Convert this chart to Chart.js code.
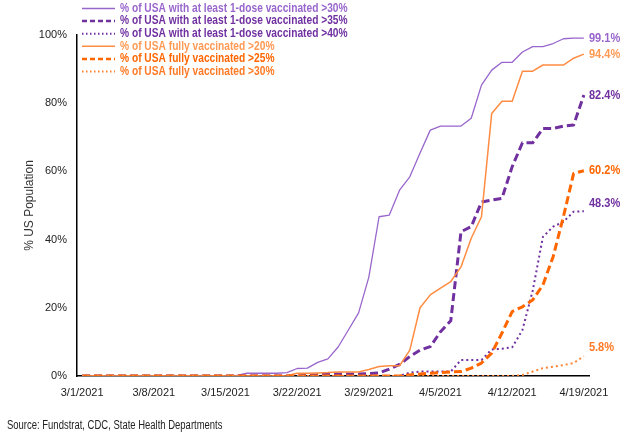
<!DOCTYPE html>
<html><head><meta charset="utf-8">
<script src="https://cdn.jsdelivr.net/npm/chart.js@4.4.0/dist/chart.umd.min.js"></script>
<style>
html,body{margin:0;padding:0;background:#fff;}
#wrap{position:relative;width:624px;height:442px;overflow:hidden;}
#c{position:absolute;left:0;top:0;}
#src{position:absolute;left:7px;top:418px;font:12px "Liberation Sans",Arial,sans-serif;color:#222;white-space:nowrap;transform:scaleX(0.79);transform-origin:0 0;}
</style></head><body>
<div id="wrap"><canvas id="c" width="624" height="442"></canvas><div id="src">Source: Fundstrat, CDC, State Health Departments</div></div>
<script>
const dates = ["3/1/2021","3/2/2021","3/3/2021","3/4/2021","3/5/2021","3/6/2021","3/7/2021",
"3/8/2021","3/9/2021","3/10/2021","3/11/2021","3/12/2021","3/13/2021","3/14/2021",
"3/15/2021","3/16/2021","3/17/2021","3/18/2021","3/19/2021","3/20/2021","3/21/2021",
"3/22/2021","3/23/2021","3/24/2021","3/25/2021","3/26/2021","3/27/2021","3/28/2021",
"3/29/2021","3/30/2021","3/31/2021","4/1/2021","4/2/2021","4/3/2021","4/4/2021",
"4/5/2021","4/6/2021","4/7/2021","4/8/2021","4/9/2021","4/10/2021","4/11/2021",
"4/12/2021","4/13/2021","4/14/2021","4/15/2021","4/16/2021","4/17/2021","4/18/2021","4/19/2021"];
const tickLabels = ["3/1/2021","3/8/2021","3/15/2021","3/22/2021","3/29/2021","4/5/2021","4/12/2021","4/19/2021"];
const yTicks = [0,20,40,60,80,100];

const dose30 = [0,0,0,0,0,0,0,0,0,0,0,0,0,0,0,0.1,0.8,0.8,0.8,0.8,1.0,2.2,2.3,4.0,5.0,8.5,13.5,18.5,29,46.7,47.2,54.5,58.4,65.4,72.1,73.3,73.3,73.3,75.6,85.3,89.7,92,92,95,96.6,96.6,97.5,98.9,99.1,99.1];
const dose35 = [0,0,0,0,0,0,0,0,0,0,0,0,0,0,0,0,0,0,0,0,0,0,0.2,0.4,0.5,0.6,0.6,0.6,0.7,0.9,2.0,3.4,5.7,7.6,8.6,13,16.2,42.3,43.8,51,51.6,52.1,61.4,68.4,68.4,72.6,72.6,73.3,73.6,82.4];
const dose40 = [0,0,0,0,0,0,0,0,0,0,0,0,0,0,0,0,0,0,0,0,0,0,0,0,0,0,0,0,0,0,0,0,1.0,1.3,1.3,1.3,1.3,4.7,4.7,4.7,7.8,8.0,8.4,13.5,25,40.8,43.8,45.2,48.2,48.3];
const full20 = [0,0,0,0,0,0,0,0,0,0,0,0,0,0,0,0,0,0,0,0,0.1,0.8,0.8,0.9,1.0,1.2,1.2,1.2,1.9,2.8,3.0,3.0,7.6,20,23.8,25.8,27.7,32,40.4,46.7,77,80.6,80.6,89.4,89.4,91.2,91.2,91.2,93.2,94.4];
const full25 = [0,0,0,0,0,0,0,0,0,0,0,0,0,0,0,0,0,0,0,0,0,0,0,0,0,0,0,0,0,0,0,0,0.3,0.6,0.8,1.0,1.2,1.3,2.3,3.8,6.7,12.6,18.9,20.3,22.3,26.7,35,46.7,59.4,60.2];
const full30 = [0,0,0,0,0,0,0,0,0,0,0,0,0,0,0,0,0,0,0,0,0,0,0,0,0,0,0,0,0,0,0,0,0,0,0,0,0,0,0,0,0,0,0,0.3,1.3,2.3,2.7,3.2,3.8,5.8];

const seriesNames = ["% of USA with at least 1-dose vaccinated >30%","% of USA with at least 1-dose vaccinated >35%","% of USA with at least 1-dose vaccinated >40%","% of USA fully vaccinated >20%","% of USA fully vaccinated >25%","% of USA fully vaccinated >30%"];

const REG = '"Liberation Sans",Arial,sans-serif';

const styles = [
  {color:'#9966CC', width:1.3, dash:[], legDash:[], legW:1.5, text:'#9966CC', dy:0},
  {color:'#7030A0', width:3, dash:[8,4], legDash:[5,3], legW:2.5, text:'#7030A0', dy:0},
  {color:'#7030A0', width:2, dash:[2,3], legDash:[1.5,2.5], legW:2, text:'#7030A0', dy:-8},
  {color:'#FF8C42', width:1.5, dash:[], legDash:[], legW:1.5, text:'#FF9A55', dy:0},
  {color:'#FF6600', width:3, dash:[8,4], legDash:[5,3], legW:2.5, text:'#FF6600', dy:0},
  {color:'#FF8533', width:2, dash:[2,3], legDash:[1.5,2.5], legW:2, text:'#FF7A26', dy:-9}
];
const values = [dose30, dose35, dose40, full20, full25, full30];

const datasets = values.map((v,i)=>({
  label: seriesNames[i],
  data: v,
  borderColor: styles[i].color,
  backgroundColor: styles[i].color,
  borderWidth: styles[i].width,
  borderDash: styles[i].dash,
  borderCapStyle: 'butt',
  borderJoinStyle: 'round',
  pointRadius: 0,
  tension: 0,
  fill: false,
  order: 6 - i
}));

function narrowText(ctx, text, x, y, sx){
  ctx.save();
  ctx.translate(x, y);
  ctx.scale(sx, 1);
  ctx.fillText(text, 0, 0);
  ctx.restore();
}

const endLabels = {
  id:'endLabels',
  afterDatasetsDraw(chart){
    const ctx = chart.ctx;
    ctx.save();
    ctx.font = 'bold 13px ' + REG;
    ctx.textAlign = 'left';
    ctx.textBaseline = 'middle';
    chart.data.datasets.forEach((ds,i)=>{
      const meta = chart.getDatasetMeta(i);
      const pt = meta.data[meta.data.length-1];
      const v = ds.data[ds.data.length-1];
      ctx.fillStyle = styles[i].text;
      narrowText(ctx, v.toFixed(1)+'%', pt.x + 5, pt.y + styles[i].dy, 0.85);
    });
    ctx.restore();
  }
};

const legendBox = {
  id:'legendBox',
  afterDraw(chart){
    const ctx = chart.ctx;
    const a = chart.chartArea;
    ctx.save();
    ctx.font = 'bold 12px ' + REG;
    ctx.textBaseline = 'middle';
    ctx.textAlign = 'left';
    chart.data.datasets.forEach((ds,i)=>{
      const y = 8.5 + i*12.6;
      const x0 = a.left + 5, x1 = a.left + 38;
      ctx.beginPath();
      ctx.setLineDash(styles[i].legDash);
      ctx.lineWidth = styles[i].legW;
      ctx.strokeStyle = styles[i].color;
      ctx.lineCap = 'butt';
      ctx.moveTo(x0, y); ctx.lineTo(x1, y);
      ctx.stroke();
      ctx.setLineDash([]);
      ctx.fillStyle = styles[i].text;
      narrowText(ctx, ds.label, a.left + 43, y, 0.85);
    });
    ctx.restore();
  }
};

new Chart(document.getElementById('c'), {
  type:'line',
  data:{labels:dates, datasets},
  options:{
    responsive:false,
    animation:false,
    devicePixelRatio:1,
    layout:{padding:{left:0,right:35,top:35,bottom:0}},
    plugins:{legend:{display:false}, tooltip:{enabled:false}},
    scales:{
      x:{
        type:'category',
        offset:true,
        grid:{display:false, drawTicks:false},
        border:{display:true,color:'#000',width:1.5},
        ticks:{
          autoSkip:false, maxRotation:0, minRotation:0, padding:10,
          color:'#222', font:{family:REG,size:11},
          callback:(val,idx)=> tickLabels.includes(dates[idx]) ? dates[idx] : ''
        },
        afterFit:s=>{s.height = 66;}
      },
      y:{
        min:0,max:100,
        grid:{display:false, drawTicks:false},
        border:{display:true,color:'#000',width:1.5},
        afterBuildTicks:s=>{s.ticks = yTicks.map(v=>({value:v}));},
        ticks:{padding:10,color:'#222',font:{family:REG,size:11},callback:v=>v+'%'},
        title:{display:true,text:'% US Population',color:'#333',font:{family:REG,size:12},padding:{top:22,bottom:0}},
        afterFit:s=>{s.width = 77;}
      }
    }
  },
  plugins:[endLabels, legendBox]
});
</script>
</body></html>
